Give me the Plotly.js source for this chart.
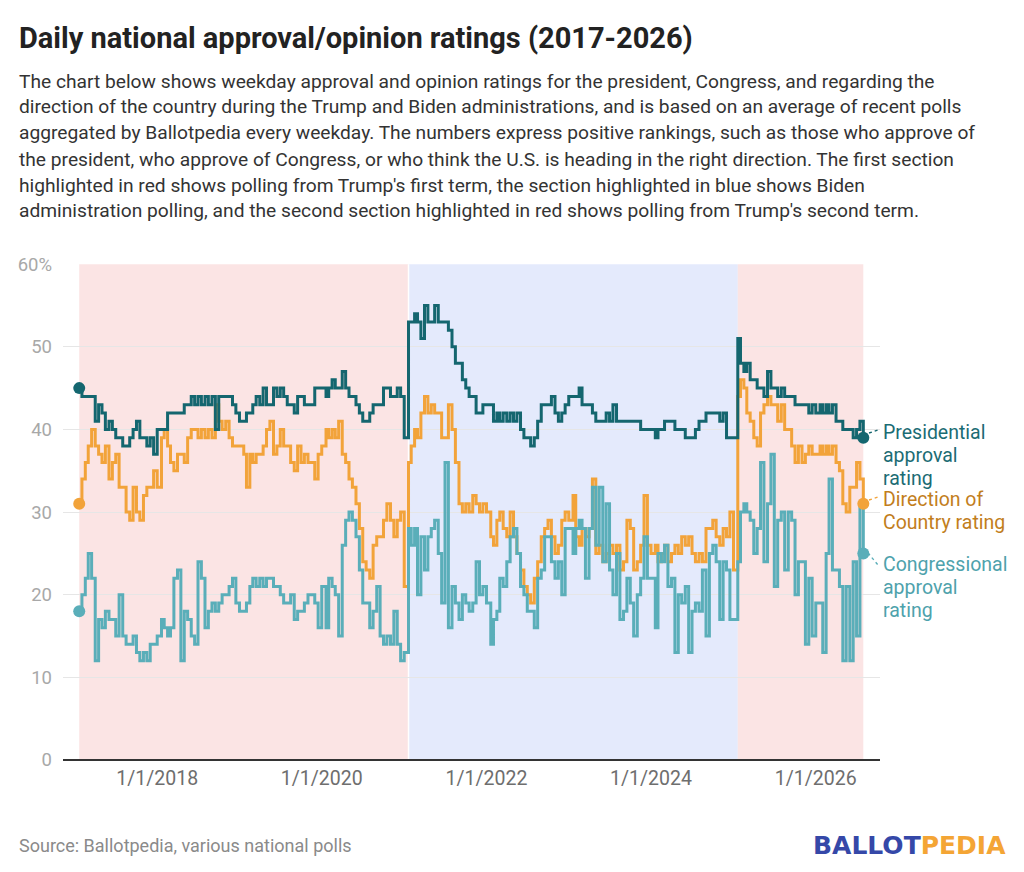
<!DOCTYPE html>
<html>
<head>
<meta charset="utf-8">
<script src="https://cdn.plot.ly/plotly-3.0.1.min.js"></script>
<style>
  html, body { margin: 0; padding: 0; background: #ffffff; }
  #chart { width: 1024px; height: 872px; }
</style>
</head>
<body>
<div id="chart"></div>
<script>
// ---------------- DATA ----------------
// Sample dates: 20 Jan 2017, then the 1st and 16th of each month (20th in January), last reading 31 Jul 2026
function buildDates() {
  const d = [];
  for (let y = 2017; y <= 2026; y++) {
    for (let m = 1; m <= 12; m++) {
      if (y === 2026 && m > 7) break;
      const mm = String(m).padStart(2, '0');
      if (y === 2017 && m === 1) { d.push('2017-01-20'); continue; }
      d.push(y + '-' + mm + '-01');
      d.push(y + '-' + mm + '-' + (m === 1 ? '20' : '16'));
    }
  }
  d.push('2026-07-31');
  return d;
}
const dates = buildDates();

// Presidential approval rating (%)
const presidential = [
  45,44,44,44,44,41,43,42,40,41,40,39,39,38,38,39,40,41,39,39,38,39,37,          // 2017
  40,40,40,42,42,42,42,42,43,43,44,43,44,43,44,43,44,40,44,44,44,44,43,42,       // 2018
  41,41,42,42,43,44,43,45,43,43,45,44,45,44,43,43,42,44,44,43,43,43,45,45,       // 2019
  45,44,45,46,45,45,47,45,44,44,43,42,41,41,42,43,43,43,45,45,44,44,45,44,       // 2020
  39,53,53,54,53,51,55,53,53,55,53,53,53,52,50,48,48,46,45,44,44,42,42,43,       // 2021
  43,43,41,42,41,42,41,42,41,42,40,39,39,38,39,41,43,43,43,44,42,41,42,43,       // 2022
  44,44,44,45,43,43,43,42,41,41,41,42,41,43,41,41,41,41,41,41,41,40,40,40,       // 2023
  40,39,40,40,41,41,41,40,40,40,39,39,39,40,41,41,42,42,42,42,41,42,39,39,       // 2024
  39,51,48,47,48,46,46,45,45,44,47,45,45,44,45,44,44,44,43,43,43,43,42,43,       // 2025
  42,43,42,43,42,43,41,41,40,40,40,39,40,41,39                                   // 2026
];

// Direction of Country rating (%)
const direction = [
  31,34,36,38,40,38,37,36,38,34,36,37,33,33,30,29,33,30,29,32,33,33,35,          // 2017
  33,39,40,38,36,35,37,37,36,39,40,40,39,40,39,40,39,43,41,40,41,39,38,38,       // 2018
  38,37,33,37,36,37,37,38,40,41,37,38,40,38,38,36,35,38,36,37,36,36,34,37,       // 2019
  38,40,39,40,39,41,37,36,34,33,31,28,24,23,22,26,27,27,29,31,29,27,29,30,       // 2020
  21,36,38,40,39,42,44,42,43,42,42,39,39,43,40,36,31,30,31,30,32,31,30,31,       // 2021
  30,27,26,29,30,28,27,30,27,25,23,21,20,19,22,24,27,28,29,27,25,26,29,30,       // 2022
  29,32,27,26,28,27,28,34,25,26,24,25,26,25,26,23,24,29,28,23,24,26,32,26,       // 2023
  25,26,24,25,26,24,25,26,25,27,26,27,25,24,25,24,28,28,29,27,26,28,27,30,       // 2024
  23,44,46,45,42,41,39,38,42,43,44,43,43,41,43,40,40,38,36,38,36,37,38,37,       // 2025
  37,38,37,38,37,38,36,35,31,30,33,33,36,34,31                                   // 2026
];

// Congressional approval rating (%)
const congressional = [
  18,20,22,25,22,12,17,16,18,17,17,15,20,15,14,14,15,13,12,13,12,14,14,          // 2017
  15,17,16,15,16,22,23,12,18,17,15,14,24,22,16,18,19,18,19,20,20,21,22,19,       // 2018
  18,18,19,21,22,21,22,21,22,22,21,21,20,19,19,20,17,18,18,19,20,20,19,16,       // 2019
  21,16,22,21,20,15,26,29,30,29,27,23,19,19,16,18,21,15,14,15,14,18,14,12,       // 2020
  13,28,26,28,20,27,23,27,28,29,25,19,36,16,21,19,17,20,19,18,19,24,20,21,       // 2021
  19,14,17,18,22,21,24,27,28,25,21,20,18,18,16,22,23,27,27,24,22,24,20,28,       // 2022
  28,25,28,29,28,22,28,33,26,33,24,31,23,20,25,17,18,22,19,15,20,22,27,22,       // 2023
  22,16,25,24,26,21,22,13,20,19,21,13,18,19,18,23,15,25,26,24,17,24,23,17,       // 2024
  17,24,30,31,30,29,25,28,36,24,31,37,21,29,30,23,30,29,20,24,24,14,22,15,       // 2025
  19,19,13,25,34,23,23,21,12,21,12,24,15,31,25                                   // 2026
];

// Administrations (shaded periods)
const termStarts = ['2017-01-20', '2021-01-20', '2025-01-20'];
const termParty  = ['R', 'D', 'R'];

// Axis ticks
const xTickVals  = ['2018-01-01', '2020-01-01', '2022-01-01', '2024-01-01', '2026-01-01'];
const xTickText  = ['1/1/2018', '1/1/2020', '1/1/2022', '1/1/2024', '1/1/2026'];
const yTickVals  = [0, 10, 20, 30, 40, 50, 60];
const yTickText  = ['0', '10', '20', '30', '40', '50', '60%'];

// Series labels (one entry per text line)
const presLabel = ['Presidential', 'approval', 'rating'];
const dirLabel  = ['Direction of', 'Country rating'];
const congLabel = ['Congressional', 'approval', 'rating'];

// ---------------- STYLE ----------------
const FONT = 'Roboto, "Noto Sans", sans-serif';
const cPres = '#14666f';
const cDir  = '#f2a33a';
const cCong = '#5aaeb9';
const cPresText = '#1b6c74';
const cDirText  = '#c27e1c';
const cCongText = '#4ea2ac';

const lastDate = dates[dates.length - 1];

function lineTrace(vals, color, name) {
  return {
    type: 'scatter', mode: 'lines', x: dates, y: vals, name: name,
    line: { color: color, width: 3, shape: 'hv' },
    hoverinfo: 'skip'
  };
}
function endMarkers(vals, color, name) {
  return {
    type: 'scatter', mode: 'markers',
    x: [dates[0], lastDate], y: [vals[0], vals[vals.length - 1]], name: name,
    marker: { color: color, size: 12 },
    hoverinfo: 'skip'
  };
}

const traces = [
  lineTrace(direction, cDir, 'Direction of Country rating'),
  lineTrace(congressional, cCong, 'Congressional approval rating'),
  lineTrace(presidential, cPres, 'Presidential approval rating'),
  endMarkers(direction, cDir, 'Direction of Country rating'),
  endMarkers(congressional, cCong, 'Congressional approval rating'),
  endMarkers(presidential, cPres, 'Presidential approval rating')
];

// Shaded administrations
const shapes = [];
for (let i = 0; i < termStarts.length; i++) {
  const end = (i + 1 < termStarts.length) ? termStarts[i + 1] : lastDate;
  shapes.push({
    type: 'rect', xref: 'x', yref: 'y', layer: 'below',
    x0: termStarts[i], x1: end, y0: 0, y1: 60,
    fillcolor: termParty[i] === 'R' ? '#fbe4e4' : '#e4eafc',
    line: { width: 0 }
  });
}
shapes.push({
  type: 'line', xref: 'x', yref: 'y', layer: 'below',
  x0: termStarts[1], x1: termStarts[1], y0: 0, y1: 60,
  line: { color: '#ffffff', width: 1.5 }
});

const PX = function (px) { return (px - 63) / 817; };   // pixel -> paper x
const PY = function (py) { return (760 - py) / 496; };  // pixel -> paper y

// dotted connectors between end markers and labels
function connector(x0, y0, x1, y1, color) {
  return { type: 'line', xref: 'paper', yref: 'paper', x0: PX(x0), y0: PY(y0), x1: PX(x1), y1: PY(y1),
           line: { color: color, width: 1.4, dash: 'dot' } };
}
shapes.push(connector(869, 433, 878, 430, cPres));
shapes.push(connector(869, 500, 878, 497, cDir));
shapes.push(connector(868, 553, 878, 565, cCong));

// Text
const descLines = [
  'The chart below shows weekday approval and opinion ratings for the president, Congress, and regarding the',
  'direction of the country during the Trump and Biden administrations, and is based on an average of recent polls',
  'aggregated by Ballotpedia every weekday. The numbers express positive rankings, such as those who approve of',
  "the president, who approve of Congress, or who think the U.S. is heading in the right direction. The first section",
  "highlighted in red shows polling from Trump's first term, the section highlighted in blue shows Biden",
  "administration polling, and the second section highlighted in red shows polling from Trump's second term."
];

const annotations = [];
annotations.push({
  xref: 'paper', yref: 'paper', x: PX(17), y: PY(38), xanchor: 'left', yanchor: 'middle',
  text: '<b>Daily national approval/opinion ratings (2017-2026)</b>', showarrow: false,
  font: { family: FONT, size: 29, color: '#222222' }
});
descLines.forEach(function (t, i) {
  annotations.push({
    xref: 'paper', yref: 'paper', x: PX(17), y: PY(81 + i * 26), xanchor: 'left', yanchor: 'middle',
    text: t, showarrow: false, font: { family: FONT, size: 19.2, color: '#333333' }
  });
});
annotations.push({
  xref: 'paper', yref: 'paper', x: PX(17), y: PY(845), xanchor: 'left', yanchor: 'middle',
  text: 'Source: Ballotpedia, various national polls', showarrow: false,
  font: { family: FONT, size: 18, color: '#8a8a8a' }
});
annotations.push({
  xref: 'paper', yref: 'paper', x: PX(1008), y: PY(845), xanchor: 'right', yanchor: 'middle',
  text: '<b><span style="color:#3548a8">BALLOT</span><span style="color:#f4a535">PEDIA</span></b>',
  showarrow: false, font: { family: '"DejaVu Sans", sans-serif', size: 25, color: '#3548a8' }
});
// series labels, one annotation per line
function addLabel(lines, firstCenterY, color) {
  lines.forEach(function (t, i) {
    annotations.push({
      xref: 'paper', yref: 'paper', x: PX(881), y: PY(firstCenterY + i * 23.3),
      xanchor: 'left', yanchor: 'middle', align: 'left',
      text: t, showarrow: false, font: { family: FONT, size: 19.5, color: color }
    });
  });
}
addLabel(presLabel, 432, cPresText);
addLabel(dirLabel, 499, cDirText);
addLabel(congLabel, 564, cCongText);

const layout = {
  width: 1024, height: 872,
  margin: { l: 63, r: 144, t: 264, b: 112, pad: 0 },
  paper_bgcolor: '#ffffff', plot_bgcolor: '#ffffff',
  showlegend: false,
  font: { family: FONT },
  xaxis: {
    type: 'date', range: ['2016-11-09', '2026-10-13'],
    tickmode: 'array', tickvals: xTickVals, ticktext: xTickText,
    showgrid: false, zeroline: false, showline: false, ticks: '',
    tickfont: { family: FONT, size: 19.5, color: '#6e6e6e' },
    ticklabelstandoff: 4, fixedrange: true
  },
  yaxis: {
    range: [0, 60.02], tickmode: 'array', tickvals: yTickVals, ticktext: yTickText,
    showgrid: true, gridcolor: '#e6e6e6', gridwidth: 1,
    zeroline: true, zerolinecolor: '#333333', zerolinewidth: 1.5,
    showline: false, ticks: '',
    tickfont: { family: FONT, size: 18.5, color: '#a8a8a8' },
    ticklabelstandoff: 10, fixedrange: true
  },
  shapes: shapes,
  annotations: annotations
};

Plotly.newPlot('chart', traces, layout, { displayModeBar: false, staticPlot: true });
</script>
</body>
</html>
